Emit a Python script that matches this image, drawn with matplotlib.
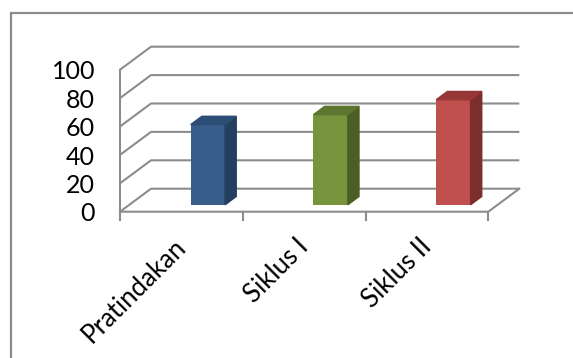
import matplotlib
matplotlib.use("Agg")
import matplotlib.pyplot as plt
from matplotlib.patches import Polygon, Rectangle

# data
categories = ["Pratindakan", "Siklus I", "Siklus II"]
values = [56.5, 63.5, 74]
yticks = [0, 20, 40, 60, 80, 100]

front_colors = ["#385D8A", "#77933C", "#C0504D"]
side_colors = ["#233E5F", "#4B5F24", "#7D2F2D"]
top_colors = ["#2C4D75", "#5E7530", "#953735"]

GRID = "#8C8C8C"

# pixel geometry of the fake 3d box (px per category / per unit)
W, H = 573, 358
SX = 368.3 / 3
SY = 1.42
X0, Y0 = 120, 211.7  # front-left-bottom corner in px (from top)

# full floor depth and bar depth, in data units
DX, DY = 31 / SX, 23 / SY
F1 = 0.3          # where the bar front face sits in the depth
BD = 0.36         # bar depth as fraction of floor depth
BW = 0.28         # bar width in categories

fig = plt.figure(figsize=(W / 100, H / 100), dpi=100)
ax = fig.add_axes([0, 0, 1, 1])
ax.set_xlim(-X0 / SX, (W - X0) / SX)
ax.set_ylim((Y0 - H) / SY, Y0 / SY)
ax.axis("off")

# outer chart border (right and bottom edges fall outside the image)
fig.patches.append(Rectangle((11 / W, -0.2), 1.2, 1.2 - 13 / H, transform=fig.transFigure,
                             fill=False, ec=GRID, lw=1.6))

# walls: diagonal + back gridlines
for t in yticks:
    ax.plot([0, DX, len(categories) + DX], [t, t + DY, t + DY], color=GRID, lw=1.5,
            solid_capstyle="butt", zorder=1)
    ax.text(-25 / SX, t - 1.5, str(t), ha="right", va="center", fontsize=18,
            family="Lato", color="black")

n = len(categories)
ax.plot([0, 0], [0, yticks[-1]], color=GRID, lw=1.5, zorder=1)
ax.plot([0, n, n + DX], [0, 0, DY], color=GRID, lw=1.5, zorder=1)
for i in range(n + 1):
    ax.plot([i, i], [0, -8 / SY], color=GRID, lw=1.5, zorder=1)

# bars
for i, v in enumerate(values):
    x0 = i + 0.5 + F1 * DX
    y0 = F1 * DY
    bx, by = BD * DX, BD * DY
    ax.bar(x0, v, bottom=y0, width=BW, align="edge", color=front_colors[i], zorder=3)
    ax.add_patch(Polygon([(x0 + BW, y0), (x0 + BW + bx, y0 + by),
                          (x0 + BW + bx, y0 + v + by), (x0 + BW, y0 + v)],
                         closed=True, color=side_colors[i], zorder=3))
    ax.add_patch(Polygon([(x0, y0 + v), (x0 + BW, y0 + v),
                          (x0 + BW + bx, y0 + v + by), (x0 + bx, y0 + v + by)],
                         closed=True, color=top_colors[i], zorder=3))

# category labels
for i, c in enumerate(categories):
    ax.text(i + 0.5 - 8 / SX, -22 / SY, c, rotation=45, rotation_mode="anchor",
            ha="right", va="top", fontsize=18.5, family="Lato")

fig.savefig("out.png", dpi=100)
